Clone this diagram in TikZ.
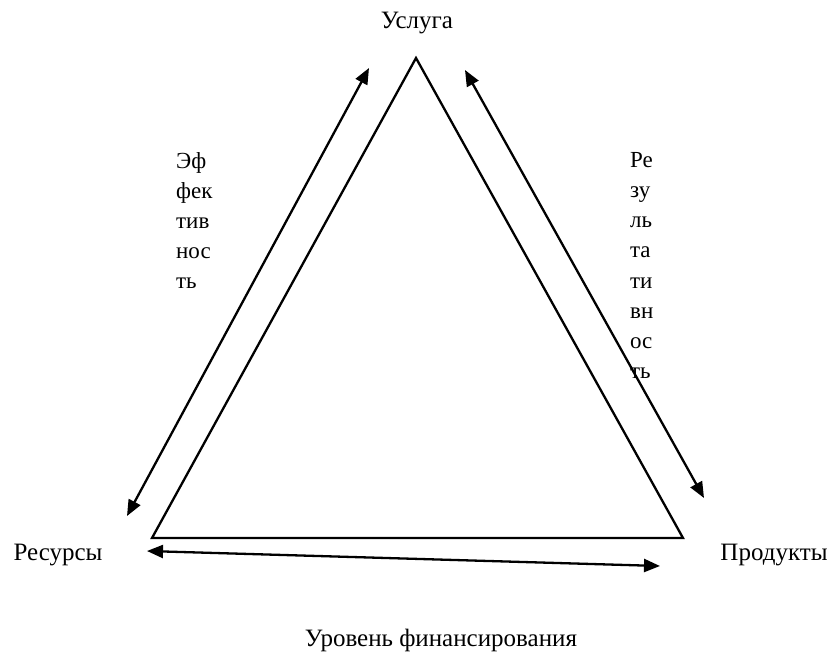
\documentclass[tikz,border=0pt]{standalone}
\usepackage{fontspec}
\setmainfont{Liberation Serif}
\usetikzlibrary{arrows.meta}
\tikzset{>={Triangle[length=16pt,width=13pt]}}
\tikzset{lbl/.style={inner sep=0pt, font=\fontsize{25}{30}\selectfont}}
\tikzset{vlbl/.style={inner sep=0pt, anchor=north west, align=left, font=\fontsize{23}{30.2}\selectfont}}
\begin{document}
\begin{tikzpicture}[x=1pt,y=-1pt, line width=2.3pt]
                \useasboundingbox (0,0) rectangle (829,659);
                \coordinate (top) at (416,58);
                \coordinate (left) at (152,538);
                \coordinate (right) at (683,538);

                % triangle
                \draw[line join=miter] (top) -- (left) -- (right) -- cycle;

                % arrow ends
                \coordinate (la) at (369,68);
                \coordinate (lb) at (127,516);
                \coordinate (ra) at (465,70);
                \coordinate (rb) at (704,498);
                \coordinate (ba) at (147,551);
                \coordinate (bb) at (660,566);

                % left side
                \draw[<->] (lb) -- (la);
                % right side
                \draw[<->] (ra) -- (rb);
                % bottom side
                \draw[<->] (ba) -- (bb);

                \node[lbl] (usluga) at (417,23) {Услуга};
                \node[lbl] (resursy) at (58,555) {Ресурсы};
                \node[lbl] (produkty) at (774,555) {Продукты};
                \node[lbl] (finans) at (441,640) {Уровень финансирования};
                \node[vlbl] (effekt) at (175,151) {Эф\\фек\\тив\\нос\\ть};
                \node[vlbl] (rezult) at (629,151) {Ре\\зу\\ль\\та\\ти\\вн\\ос\\ть};
\end{tikzpicture}
\end{document}
